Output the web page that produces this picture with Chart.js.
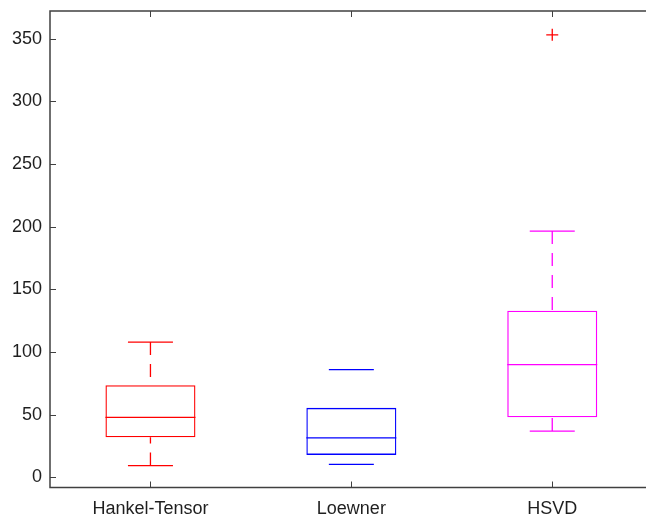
<!DOCTYPE html>
<html lang="en">
<head>
    <meta charset="UTF-8">
    <script src="https://cdn.jsdelivr.net/npm/chart.js"></script>
    <title>Boxplot</title>
    <style>
        html, body {
            margin: 0;
            padding: 0;
            background: #fff;
            overflow: hidden;
        }
        #box-chart {
            display: block;
        }
    </style>
</head>
<body>
    <canvas id="box-chart" width="660" height="517"></canvas>

    <script>
        // данные
        const categories = ['Hankel-Tensor', 'Loewner', 'HSVD'];
        const lowerWhisker = [9.5, 10.5, 37];
        const q1 = [32, 18, 48];
        const median = [48, 31.5, 90];
        const q3 = [73.5, 55.5, 133];
        const upperWhisker = [108, 86, 196.5];
        const outliers = [null, null, 353];
        const yTicks = [0, 50, 100, 150, 200, 250, 300, 350];

        const colors = ['#ff0000', '#0000ff', '#ff00ff'];
        // у Loewner вертикальные усы не видны
        const showWhisker = [true, false, true];

        const axisColor = '#404040';
        const textColor = '#1f1f1f';

        // рамка, засечки внутрь, медианы и усы
        const boxPlugin = {
            id: 'boxParts',
            afterDatasetsDraw(chart) {
                const c = chart.ctx;
                const x = chart.scales.x;
                const y = chart.scales.y;
                const meta = chart.getDatasetMeta(0);

                c.save();
                c.lineWidth = 1.3;
                categories.forEach((cat, i) => {
                    const cx = x.getPixelForValue(i);
                    const bw = meta.data[i].width;
                    const capHalf = bw / 4;
                    c.strokeStyle = colors[i];

                    // медиана
                    c.setLineDash([]);
                    c.beginPath();
                    c.moveTo(cx - bw / 2, y.getPixelForValue(median[i]));
                    c.lineTo(cx + bw / 2, y.getPixelForValue(median[i]));
                    c.stroke();

                    // шапки усов
                    [lowerWhisker[i], upperWhisker[i]].forEach(v => {
                        c.beginPath();
                        c.moveTo(cx - capHalf, y.getPixelForValue(v));
                        c.lineTo(cx + capHalf, y.getPixelForValue(v));
                        c.stroke();
                    });

                    // усы пунктиром
                    if (showWhisker[i]) {
                        c.setLineDash([13, 9]);
                        c.beginPath();
                        c.moveTo(cx, y.getPixelForValue(upperWhisker[i]));
                        c.lineTo(cx, y.getPixelForValue(q3[i]));
                        c.stroke();
                        c.beginPath();
                        c.moveTo(cx, y.getPixelForValue(lowerWhisker[i]));
                        c.lineTo(cx, y.getPixelForValue(q1[i]));
                        c.stroke();
                    }
                });
                c.restore();

                // рамка осей
                const a = chart.chartArea;
                c.save();
                c.strokeStyle = axisColor;
                c.lineWidth = 1.5;
                c.strokeRect(a.left, a.top, a.right - a.left, a.bottom - a.top);

                c.lineWidth = 1;
                c.beginPath();
                yTicks.forEach(v => {
                    const py = Math.round(y.getPixelForValue(v)) + 0.5;
                    c.moveTo(a.left, py);
                    c.lineTo(a.left + 6, py);
                    c.moveTo(a.right, py);
                    c.lineTo(a.right - 6, py);
                });
                categories.forEach((cat, i) => {
                    const px = Math.round(x.getPixelForValue(i)) + 0.5;
                    c.moveTo(px, a.bottom);
                    c.lineTo(px, a.bottom - 6);
                    c.moveTo(px, a.top);
                    c.lineTo(px, a.top + 6);
                });
                c.stroke();
                c.restore();
            }
        };

        function noPadding(scale) {
            scale.paddingTop = 0;
            scale.paddingBottom = 0;
            scale.paddingLeft = 0;
            scale.paddingRight = 0;
        }

        const ctx = document.getElementById('box-chart');

        new Chart(ctx, {
            data: {
                labels: categories,
                datasets: [{
                    type: 'bar',
                    data: categories.map((cat, i) => [q1[i], q3[i]]),
                    backgroundColor: 'rgba(0,0,0,0)',
                    borderColor: colors,
                    borderWidth: 1.3,
                    borderSkipped: false,
                    barPercentage: 0.448,
                    categoryPercentage: 1
                }, {
                    type: 'line',
                    data: outliers,
                    showLine: false,
                    pointStyle: 'cross',
                    pointRadius: 6,
                    pointBorderWidth: 1.3,
                    borderColor: '#ff0000',
                    backgroundColor: '#ff0000'
                }]
            },
            plugins: [boxPlugin],
            options: {
                responsive: false,
                animation: false,
                layout: { padding: { top: 11, right: 1, left: 0, bottom: 0 } },
                plugins: {
                    legend: { display: false },
                    tooltip: { enabled: false }
                },
                scales: {
                    x: {
                        offset: true,
                        grid: { display: false, drawTicks: false },
                        border: { display: false },
                        ticks: {
                            color: textColor,
                            padding: 11,
                            font: { family: 'Liberation Sans', size: 18 }
                        },
                        afterFit(scale) {
                            scale.height = 29.5;
                            noPadding(scale);
                        }
                    },
                    y: {
                        min: -8,
                        max: 372,
                        grid: { display: false, drawTicks: false },
                        border: { display: false },
                        afterBuildTicks(scale) {
                            scale.ticks = yTicks.map(v => ({ value: v }));
                        },
                        ticks: {
                            color: textColor,
                            padding: 8,
                            font: { family: 'Liberation Sans', size: 18 }
                        },
                        afterFit(scale) {
                            scale.width = 50;
                            noPadding(scale);
                        }
                    }
                }
            }
        });
    </script>
</body>
</html>
